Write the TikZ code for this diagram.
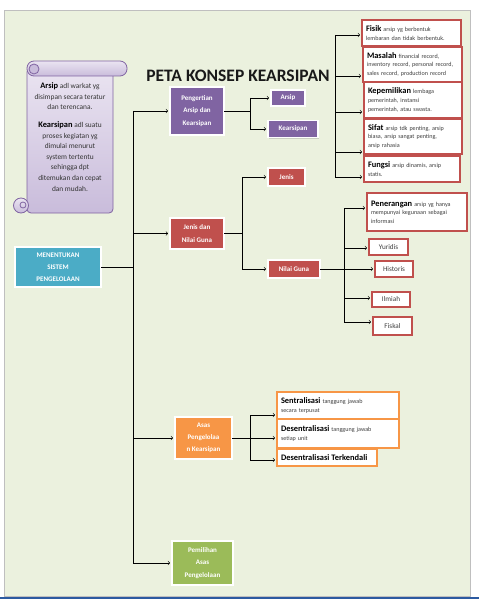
\documentclass[tikz,border=0pt]{standalone}
\usepackage{fontspec}
\setmainfont{Carlito}
\usetikzlibrary{shadows}

\definecolor{bgreen}{HTML}{EBF1DE}
\definecolor{cpurple}{HTML}{8064A2}
\definecolor{cred}{HTML}{C0504D}
\definecolor{cteal}{HTML}{4BACC6}
\definecolor{corange}{HTML}{F79646}
\definecolor{cgreen}{HTML}{9BBB59}
\definecolor{scrtop}{HTML}{EAE4F1}
\definecolor{scrbot}{HTML}{C9BCDB}
\definecolor{cblue}{HTML}{2C5AA0}

\newcommand{\hd}[1]{{\bfseries\color{black}\fontsize{8.4}{8}\selectfont #1}}

\begin{document}
\begin{tikzpicture}
  [x=1pt,y=-1pt,
   every node/.style={inner sep=0pt,outer sep=0pt},
   wh/.style 2 args={minimum width=#1pt,minimum height=#2pt},
   colbox/.style={draw=white,line width=1.5pt,text=white,align=center,
     font=\bfseries\fontsize{7}{12.2}\selectfont,
     drop shadow={shadow xshift=1pt,shadow yshift=-1pt,opacity=.3}},
   redbox/.style={draw=cred,line width=1.7pt,fill=white,align=left,
     inner xsep=4pt,text=black!75,font=\fontsize{6.1}{8.6}\selectfont},
   smallbox/.style={redbox,align=center,inner xsep=0pt,
     font=\fontsize{7.2}{8}\selectfont},
   orbox/.style={redbox,draw=corange},
   scroll/.style={top color=scrtop,bottom color=scrbot,draw=cpurple,line width=.8pt},
   lnk/.style={->,line width=.6pt,shorten >=2pt},
   trunk/.style={line width=.6pt}]

  \useasboundingbox (0,0) rectangle (479,599);
  \fill[white] (0,0) rectangle (479,599);
  \filldraw[fill=bgreen,draw=black!25,line width=1pt] (4,11) rectangle (470,596);
  \draw[cblue,line width=2pt] (0,598) -- (479,598);

  \shade[scroll,rounded corners=4pt] (27,68) rectangle (113,213);
  \shade[scroll,rounded corners=7pt] (27,61) rectangle (127,76);
  \draw[cpurple,line width=.8pt,fill=scrbot] (34,69) circle (5);
  \shade[scroll] (21,205.5) circle (7.5);
  \draw[cpurple,line width=.8pt] (23,205) circle (3);
  \node[align=center,text=black!80,font=\fontsize{7.4}{10.6}\selectfont] (defs) at (70,137)
    {\hd{Arsip} adl warkat yg\\disimpan secara teratur\\dan terencana.\\[7pt]
     \hd{Kearsipan} adl suatu\\proses kegiatan yg\\dimulai menurut\\system tertentu\\
     sehingga dpt\\ditemukan dan cepat\\dan mudah.};

  \node[font=\bfseries\fontsize{17.5}{20}\selectfont,text=black!90] (title) at (238,76)
    {PETA KONSEP KEARSIPAN};

  \node[colbox,fill=cteal,wh={86}{40}] (sistem) at (58,267) {MENENTUKAN\\SISTEM\\PENGELOLAAN};
  \node[colbox,fill=cpurple,wh={54}{48}] (pengertian) at (197,111) {Pengertian\\Arsip dan\\Kearsipan};
  \node[colbox,fill=cred,wh={54}{31}] (jenisnilai) at (197,233.5) {Jenis dan\\Nilai Guna};
  \node[colbox,fill=corange,wh={57}{42}] (asas) at (203.5,438) {Asas\\Pengelolaa\\n Kearsipan};
  \node[colbox,fill=cgreen,wh={61}{44}] (pemilihan) at (202.5,563) {Pemilihan\\Asas\\Pengelolaan};

  \node[colbox,fill=cpurple,wh={34}{16}] (arsip) at (288,98) {Arsip};
  \node[colbox,fill=cpurple,wh={50}{17}] (kearsipan) at (293,129) {Kearsipan};
  \node[colbox,fill=cred,wh={37}{18}] (jenis) at (286.5,177) {Jenis};
  \node[colbox,fill=cred,wh={52}{18}] (nilaiguna) at (294,269) {Nilai Guna};

  \node[redbox,wh={99}{26},text width=91pt] (fisik) at (411.5,33)
    {\hd{Fisik} arsip yg berbentuk\\lembaran dan tidak berbentuk.};
  \node[redbox,wh={99}{35},text width=91pt] (masalah) at (412.5,64.5)
    {\hd{Masalah} financial record,\\inventory record, personal record,\\sales record, production record};
  \node[redbox,wh={98}{36},text width=90pt] (kepemilikan) at (413,100)
    {\hd{Kepemilikan} lembaga\\pemerintah, instansi\\pemerintah, atau swasta.};
  \node[redbox,wh={98}{35},text width=90pt] (sifat) at (413,136.5)
    {\hd{Sifat} arsip tdk penting, arsip\\biasa, arsip sangat penting,\\arsip rahasia};
  \node[redbox,wh={96}{26},text width=88pt] (fungsi) at (412,169)
    {\hd{Fungsi} arsip dinamis, arsip\\statis.};

  \node[redbox,wh={100}{38},text width=92pt] (penerangan) at (417,212)
    {\hd{Penerangan} arsip yg hanya\\mempunyai kegunaan sebagai\\informasi};
  \node[smallbox,wh={39}{16}] (yuridis) at (388.5,247) {Yuridis};
  \node[smallbox,wh={38}{16}] (historis) at (394,269) {Historis};
  \node[smallbox,wh={38}{15}] (ilmiah) at (391,299.5) {Ilmiah};
  \node[smallbox,wh={39}{18}] (fiskal) at (392.5,326) {Fiskal};

  \node[orbox,wh={122}{27},text width=114pt] (sentral) at (338,405.5)
    {\hd{Sentralisasi} tanggung jawab\\secara terpusat};
  \node[orbox,wh={122}{29},text width=114pt] (desentral) at (338,433.5)
    {\hd{Desentralisasi} tanggung jawab\\setiap unit};
  \node[orbox,wh={100}{17},text width=92pt] (terkendali) at (327,457.5)
    {\hd{Desentralisasi Terkendali}};

  \coordinate (b0) at (133,267);
  \coordinate (b1) at (133,111);
  \coordinate (b2) at (133,233.5);
  \coordinate (b3) at (133,438);
  \coordinate (b4) at (133,563);
  \coordinate (p1) at (250,98);
  \coordinate (p2) at (250,129);
  \coordinate (j1) at (242,177);
  \coordinate (j2) at (242,269);
  \coordinate (k1) at (335,35);
  \coordinate (k2) at (335,76);
  \coordinate (k3) at (335,112);
  \coordinate (k4) at (335,152);
  \coordinate (k5) at (335,177);
  \coordinate (n1) at (344,208);
  \coordinate (n2) at (344,248);
  \coordinate (n3) at (344,269);
  \coordinate (n4) at (344,298);
  \coordinate (n5) at (344,322);
  \coordinate (a1) at (250,415);
  \coordinate (a2) at (250,438);
  \coordinate (a3) at (250,460);

  \draw[trunk] (sistem.east) -- (b0);
  \draw[trunk] (pengertian.east) -- (pengertian.east -| p1);
  \draw[trunk] (jenisnilai.east) -- (jenisnilai.east -| j1);
  \draw[trunk] (nilaiguna.east) -- (n3);
  \draw[trunk] (asas.east) -- (a2);
  \foreach \from/\to in {b1/b4,p1/p2,j1/j2,k1/k5,n1/n5,a1/a3}
    \draw[trunk] (\from) -- (\to);

  \foreach \from/\to in {b1/pengertian,b2/jenisnilai,b3/asas,b4/pemilihan,
      p1/arsip,p2/kearsipan,j1/jenis,j2/nilaiguna,
      k1/fisik,k2/masalah,k3/kepemilikan,k4/sifat,k5/fungsi,
      n1/penerangan,n2/yuridis,n3/historis,n4/ilmiah,n5/fiskal,
      a1/sentral,a2/desentral,a3/terkendali}
    \draw[lnk] (\from) -- (\from -| \to.west);

\end{tikzpicture}
\end{document}
